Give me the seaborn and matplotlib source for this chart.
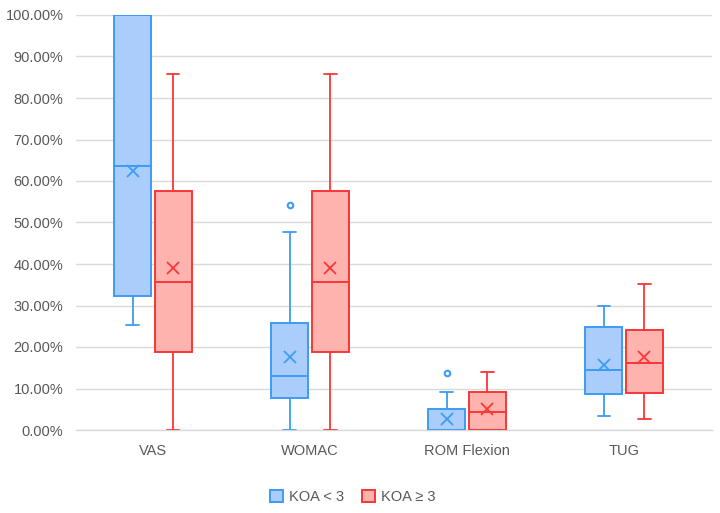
import seaborn as sns
import matplotlib.pyplot as plt
from matplotlib.patches import Patch
from matplotlib.ticker import FuncFormatter

categories = ["VAS", "WOMAC", "ROM Flexion", "TUG"]
groups = ["KOA < 3", "KOA ≥ 3"]

# KOA < 3 (values in %)
low_whislo = [25.2, 0.0, 0.0, 3.3]
low_q1 = [32.2, 7.6, 0.0, 8.6]
low_med = [63.6, 12.9, 0.0, 14.4]
low_q3 = [100.0, 25.9, 5.1, 24.8]
low_whishi = [100.0, 47.7, 9.2, 30.0]
low_mean = [62.4, 17.7, 2.7, 15.7]
low_fliers = [[], [54.3], [13.8], []]

# KOA >= 3
high_whislo = [0.0, 0.0, 0.0, 2.6]
high_q1 = [18.8, 18.8, 0.0, 9.0]
high_med = [35.6, 35.6, 4.4, 16.2]
high_q3 = [57.5, 57.5, 9.2, 24.2]
high_whishi = [85.7, 85.7, 13.9, 35.3]
high_mean = [39.0, 39.0, 5.0, 17.5]
high_fliers = [[], [], [], []]

edge_colors = ["#3d9cf5", "#fb3636"]
fill_colors = ["#aacdfb", "#ffb3ae"]

sns.set_style("white")
plt.rcParams["font.family"] = ["Liberation Sans", "DejaVu Sans"]

fig = plt.figure(figsize=(7.2, 5.13), dpi=100)
ax = fig.add_axes([76 / 720, 83 / 513, 636 / 720, 415 / 513])


def make_stats(wl, q1, med, q3, wh, mean, fl):
    return [dict(whislo=a, q1=b, med=c, q3=d, whishi=e, mean=f, fliers=g)
            for a, b, c, d, e, f, g in zip(wl, q1, med, q3, wh, mean, fl)]


all_stats = [
    make_stats(low_whislo, low_q1, low_med, low_q3, low_whishi, low_mean, low_fliers),
    make_stats(high_whislo, high_q1, high_med, high_q3, high_whishi, high_mean, high_fliers),
]
offsets = [-0.13, 0.13]

for k, stats in enumerate(all_stats):
    ec, fc = edge_colors[k], fill_colors[k]
    ax.bxp(stats, positions=[i + offsets[k] for i in range(len(categories))],
           widths=0.235, capwidths=0.078, patch_artist=True,
           showmeans=True, showfliers=True,
           boxprops=dict(facecolor=fc, edgecolor=ec, linewidth=1.4),
           medianprops=dict(color=ec, linewidth=1.4),
           whiskerprops=dict(color=ec, linewidth=1.3),
           capprops=dict(color=ec, linewidth=1.3),
           meanprops=dict(marker="x", markeredgecolor=ec, markersize=9,
                          markeredgewidth=1.3, linestyle="none"),
           flierprops=dict(marker="o", markeredgecolor=ec, markerfacecolor="#ffffff",
                           markersize=4, markeredgewidth=1.5),
           zorder=3)

ax.set_xlim(-0.49, 3.56)
ax.set_ylim(0, 100)
ax.set_yticks(range(0, 101, 10))
ax.yaxis.set_major_formatter(FuncFormatter(lambda v, p: f"{v:.2f}%"))
ax.set_xticks(range(len(categories)))
ax.set_xticklabels(categories)
ax.grid(axis="y", color="#d9d9d9", linewidth=1)
ax.grid(axis="x", visible=False)
ax.set_axisbelow(True)
for s in ["top", "right", "left"]:
    ax.spines[s].set_visible(False)
ax.spines["bottom"].set_color("#d9d9d9")
ax.spines["bottom"].set_linewidth(1)
ax.tick_params(axis="both", length=0, colors="#595959", labelsize=10.5)
ax.tick_params(axis="y", pad=9)
ax.tick_params(axis="x", pad=10)

handles = [Patch(facecolor=fill_colors[k], edgecolor=edge_colors[k], linewidth=1.4,
                 label=groups[k]) for k in range(2)]
leg = fig.legend(handles=handles, loc="center", bbox_to_anchor=(0.49, 0.031),
                 ncol=2, frameon=False, fontsize=10.5, handlelength=0.9,
                 handleheight=0.9, handletextpad=0.4, columnspacing=1.2)
for t in leg.get_texts():
    t.set_color("#595959")

fig.savefig("out.png", dpi=100)
